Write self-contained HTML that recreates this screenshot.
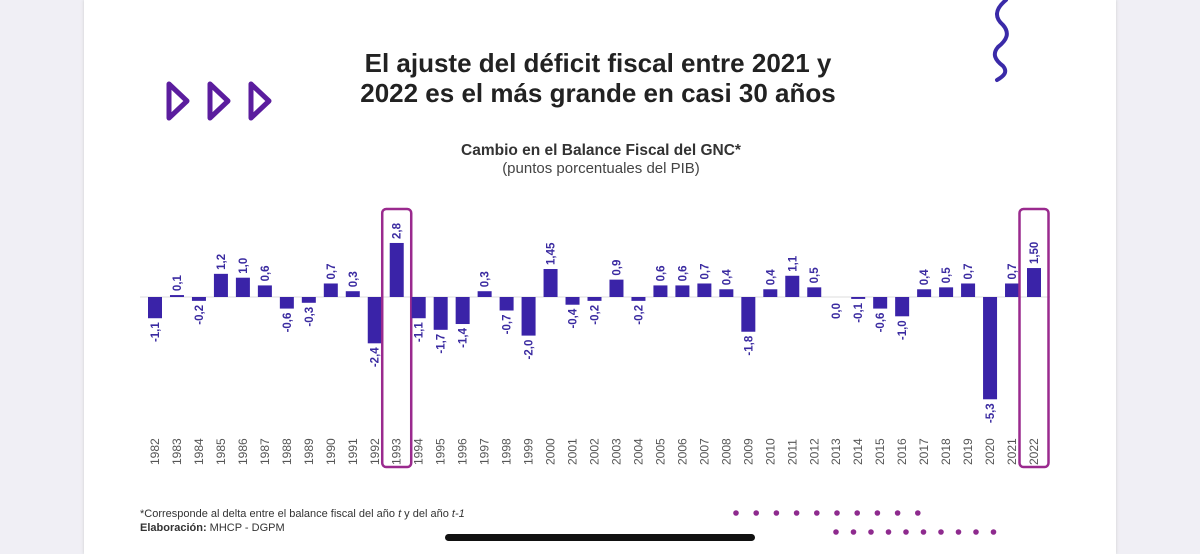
<!DOCTYPE html>
<html><head><meta charset="utf-8"><style>
html,body{margin:0;padding:0;width:1200px;height:554px;overflow:hidden;background:#f0eff5;font-family:"Liberation Sans",sans-serif}
#page{position:absolute;left:84px;top:0;width:1032px;height:554px;background:#fff;box-shadow:0 0 3px #ccc}
svg{position:absolute;left:0;top:0}
</style></head><body>
<div id="page"></div>
<svg id="chart" width="1200" height="554">
 <g fill="none" stroke="#5b1d9e" stroke-width="5" stroke-linejoin="round">
  <path d="M169,84 L187,101 L169,118 Z"/><path d="M210,84 L228,101 L210,118 Z"/><path d="M251,84 L269,101 L251,118 Z"/>
 </g>
 <path d="M1006,0 C994,10 995,18 1003,25 C1010,33 1007,40 998,47 C992,54 995,60 1003,66 C1008,72 1004,76 997,80" fill="none" stroke="#3a2aa8" stroke-width="4" stroke-linecap="round"/>
 <text x="598" y="72" text-anchor="middle" font-size="26" font-weight="bold" fill="#222">El ajuste del déficit fiscal entre 2021 y</text>
 <text x="598" y="102" text-anchor="middle" font-size="26" font-weight="bold" fill="#222">2022 es el más grande en casi 30 años</text>
 <text x="601" y="155" text-anchor="middle" font-size="15.5" font-weight="bold" fill="#333">Cambio en el Balance Fiscal del GNC*</text>
 <text x="601" y="173" text-anchor="middle" font-size="15" fill="#444">(puntos porcentuales del PIB)</text>
 <g id="plot"></g>
 <text x="140" y="517" font-size="11" fill="#333">*Corresponde al delta entre el balance fiscal del año <tspan font-style="italic">t</tspan> y del año <tspan font-style="italic">t-1</tspan></text>
 <text x="140" y="531" font-size="11" fill="#333"><tspan font-weight="bold">Elaboración:</tspan> MHCP - DGPM</text>
 <g id="dots" fill="#8e2a8e"></g>
 <rect x="445" y="534" width="310" height="7" rx="3.5" fill="#111"/>
</svg>
<script>
const years=["1982","1983","1984","1985","1986","1987","1988","1989","1990","1991","1992","1993","1994","1995","1996","1997","1998","1999","2000","2001","2002","2003","2004","2005","2006","2007","2008","2009","2010","2011","2012","2013","2014","2015","2016","2017","2018","2019","2020","2021","2022"];
const values=[-1.1,0.1,-0.2,1.2,1.0,0.6,-0.6,-0.3,0.7,0.3,-2.4,2.8,-1.1,-1.7,-1.4,0.3,-0.7,-2.0,1.45,-0.4,-0.2,0.9,-0.2,0.6,0.6,0.7,0.4,-1.8,0.4,1.1,0.5,0.0,-0.1,-0.6,-1.0,0.4,0.5,0.7,-5.3,0.7,1.5];
const valueLabels=["-1,1","0,1","-0,2","1,2","1,0","0,6","-0,6","-0,3","0,7","0,3","-2,4","2,8","-1,1","-1,7","-1,4","0,3","-0,7","-2,0","1,45","-0,4","-0,2","0,9","-0,2","0,6","0,6","0,7","0,4","-1,8","0,4","1,1","0,5","0,0","-0,1","-0,6","-1,0","0,4","0,5","0,7","-5,3","0,7","1,50"];
const highlighted=["1993","2022"];
const NS="http://www.w3.org/2000/svg";
const x0=155,step=21.975,bw=14,zeroY=297,ppu=19.3;
const xs=i=>x0+i*step, ys=v=>zeroY-v*ppu;
const g=document.getElementById('plot');
function mk(t,a){const e=document.createElementNS(NS,t);for(const k in a)e.setAttribute(k,a[k]);g.appendChild(e);return e;}
const base=mk('line',{x1:140,x2:1050,y1:zeroY,y2:zeroY,stroke:'#ddd','stroke-width':1});


years.forEach((y,i)=>{
 const v=values[i],cx=xs(i),h=Math.max(Math.abs(ys(v)-zeroY),v===0?0:1.5);
 const r=mk('rect',{x:cx-bw/2,y:v>=0?zeroY-h:zeroY,width:bw,height:h,fill:'#3a23a8'});
 
 
 const ly=v>0?ys(v)-4:(v<0?ys(v)+4:zeroY+6);
 const t=mk('text',{x:cx+4,y:ly,transform:`rotate(-90 ${cx+4} ${ly})`,'text-anchor':v>0?'start':'end','font-size':11.5,'font-weight':'bold',fill:'#3a2aa0'});
 t.textContent=valueLabels[i];
 
 
 const yl=mk('text',{x:cx+4,y:465,transform:`rotate(-90 ${cx+4} 465)`,'text-anchor':'start','font-size':12,fill:'#555'});
 yl.textContent=y;
 
 
 if(highlighted.includes(y)){
  const b=mk('rect',{x:cx-14.5,y:209,width:29,height:258,rx:4,fill:'none',stroke:'#9a2a8e','stroke-width':2.5});
  
  
 }
});
const d=document.getElementById('dots');
for(let i=0;i<10;i++){const c=document.createElementNS(NS,'circle');c.setAttribute('cx',736+i*20.2);c.setAttribute('cy',513);c.setAttribute('r',2.8);d.appendChild(c);}
for(let i=0;i<10;i++){const c=document.createElementNS(NS,'circle');c.setAttribute('cx',836+i*17.5);c.setAttribute('cy',532);c.setAttribute('r',2.8);d.appendChild(c);}
</script>
</body></html>
